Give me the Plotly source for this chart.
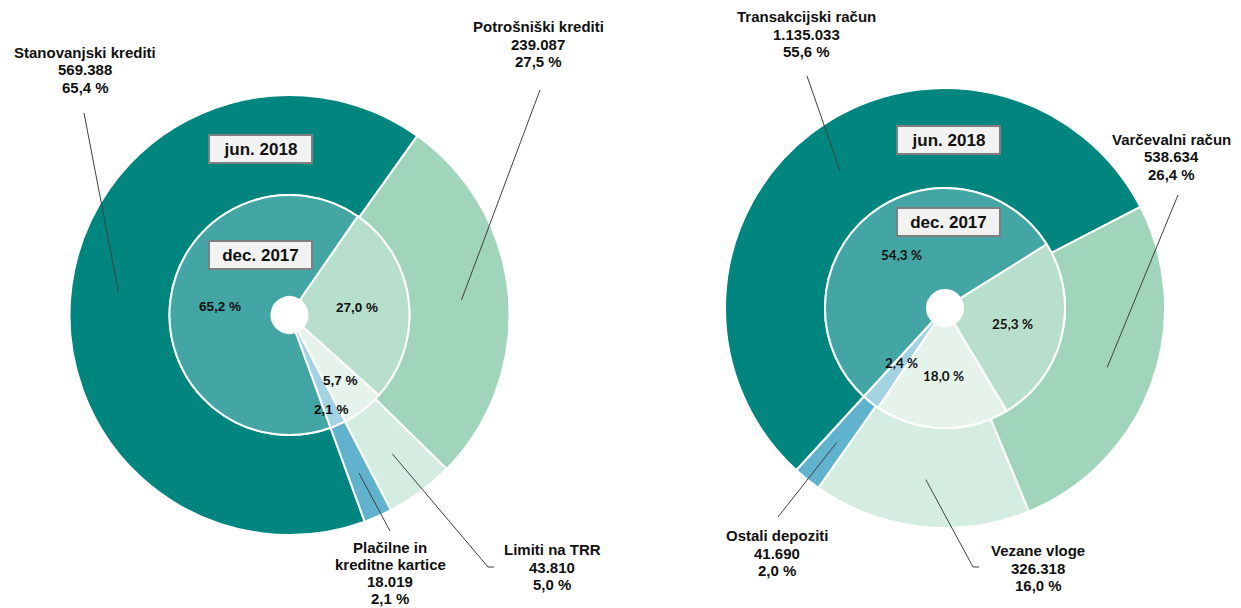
import math
import plotly.graph_objects as go

# page body has an 8px default margin -> figure fills the rest of the 1241x608 window
OFF = 8
W, H = 1241 - OFF, 608 - OFF

# ---------------- data ----------------
loan_labels = ["Stanovanjski krediti", "Potrošniški krediti", "Limiti na TRR", "Plačilne in\nkreditne kartice"]
loan_jun2018 = [569388, 239087, 43810, 18019]
loan_dec2017_pct = [65.2, 27.0, 5.7, 2.1]

dep_labels = ["Transakcijski račun", "Varčevalni račun", "Vezane vloge", "Ostali depoziti"]
dep_jun2018 = [1135033, 538634, 326318, 41690]
dep_dec2017_pct = [54.3, 25.3, 18.0, 2.4]

period_outer = "jun. 2018"
period_inner = "dec. 2017"

# ---------------- style ----------------
outer_colors = ["#00857F", "#A0D4BB", "#D5ECE0", "#60B2CD"]
inner_colors = ["#43A5A4", "#B8DFCB", "#E5F3EA", "#A3D3E3"]
FONT = "Liberation Sans"
LINE_COLOR = "#404040"
LABEL_SIZE = 15
LABEL_LINE_H = 17.3

charts = [
    dict(labels=loan_labels, outer=loan_jun2018, inner=loan_dec2017_pct,
         cx=289.5, cy=315, R=220, r_in=120, hole=18, rotation=160,
         inner_font="Liberation Sans", inner_size=13.5, inner_r=[0.58, 0.57, 0.69, 0.86],
         label_pos=[(85, 70), (538, 44), (552, 567), (390, 573)],
         line_end=[[(84, 113)], [(540, 90)], [(488, 567), (494, 567)], [(390, 531)]],
         box_x=260, box_y=[149, 255]),
    dict(labels=dep_labels, outer=dep_jun2018, inner=dep_dec2017_pct,
         cx=945, cy=308, R=220, r_in=120, hole=18, rotation=-137.5,
         inner_font="Lato", inner_size=13.5, inner_r=[0.57, 0.58, 0.57, 0.58],
         label_pos=[(806, 34), (1171, 157), (1038, 568), (777, 553)],
         line_end=[[(807, 76)], [(1178, 195)], [(973, 567), (979, 567)], [(778, 517)]],
         box_x=948, box_y=[140, 222]),
]


def fmt_int(v):
    return f"{v:,}".replace(",", ".")


def fmt_pct(p):
    return f"{p:.1f}".replace(".", ",") + " %"


def px(x):
    return (x - OFF) / W


def py(y):
    return 1 - (y - OFF) / H


def mid_angles(values, rotation):
    tot = float(sum(values))
    a = rotation
    mids = []
    for v in values:
        span = v / tot * 360.0
        mids.append(a + span / 2)
        a += span
    return mids


def polar(cx, cy, r, ang):
    t = math.radians(ang)
    return cx + r * math.sin(t), cy - r * math.cos(t)


fig = go.Figure()
annotations = []
shapes = []

for c in charts:
    cx, cy, R, r_in = c["cx"], c["cy"], c["R"], c["r_in"]
    names = [l.replace("\n", " ") for l in c["labels"]]
    # outer ring (jun. 2018)
    fig.add_trace(go.Pie(
        labels=names, values=c["outer"],
        sort=False, direction="clockwise", rotation=c["rotation"],
        hole=r_in / R, textinfo="none", hoverinfo="label+value+percent",
        marker=dict(colors=outer_colors, line=dict(color="white", width=2)),
        domain=dict(x=[px(cx - R), px(cx + R)], y=[py(cy + R), py(cy - R)]),
        showlegend=False,
    ))
    # inner ring (dec. 2017)
    fig.add_trace(go.Pie(
        labels=names, values=c["inner"],
        sort=False, direction="clockwise", rotation=c["rotation"],
        hole=c["hole"] / r_in, textinfo="none", hoverinfo="label+percent",
        marker=dict(colors=inner_colors, line=dict(color="white", width=2)),
        domain=dict(x=[px(cx - r_in), px(cx + r_in)], y=[py(cy + r_in), py(cy - r_in)]),
        showlegend=False,
    ))

    tot = float(sum(c["outer"]))
    outer_mids = mid_angles(c["outer"], c["rotation"])
    inner_mids = mid_angles(c["inner"], c["rotation"])

    # outer labels with leader lines
    for i, lab in enumerate(c["labels"]):
        pct = c["outer"][i] / tot * 100
        lines = lab.split("\n") + [fmt_int(c["outer"][i]), fmt_pct(pct)]
        lx, ly = c["label_pos"][i]
        n = len(lines)
        for k, s in enumerate(lines):
            yk = ly + (k - (n - 1) / 2) * LABEL_LINE_H
            annotations.append(dict(
                x=px(lx), y=py(yk), xref="paper", yref="paper", text=f"<b>{s}</b>",
                showarrow=False, xanchor="center", yanchor="middle", align="center",
                font=dict(family=FONT, size=LABEL_SIZE, color="#111111"),
            ))
        tx, ty = polar(cx, cy, 0.785 * R, outer_mids[i])
        path = f"M {px(tx)} {py(ty)}"
        for (ex, ey) in c["line_end"][i]:
            path += f" L {px(ex)} {py(ey)}"
        shapes.append(dict(type="path", path=path, xref="paper", yref="paper",
                           line=dict(color=LINE_COLOR, width=1)))

    # inner percentage labels
    for i, p in enumerate(c["inner"]):
        lx, ly = polar(cx, cy, c["inner_r"][i] * r_in, inner_mids[i])
        annotations.append(dict(
            x=px(lx), y=py(ly), xref="paper", yref="paper", text=f"<b>{fmt_pct(p)}</b>",
            showarrow=False, xanchor="center", yanchor="middle",
            font=dict(family=c["inner_font"], size=c["inner_size"], color="#111111"),
        ))

    # period boxes
    for txt, by in zip([period_outer, period_inner], c["box_y"]):
        annotations.append(dict(
            x=px(c["box_x"]), y=py(by), xref="paper", yref="paper", text=f"<b>{txt}</b>",
            showarrow=False, xanchor="center", yanchor="middle",
            width=99, height=24, borderpad=1,
            bgcolor="#F2F2F2", bordercolor="#7F7F7F", borderwidth=2,
            font=dict(family=FONT, size=17, color="#111111"),
        ))

fig.update_layout(
    width=W, height=H,
    margin=dict(l=0, r=0, t=0, b=0),
    paper_bgcolor="white", plot_bgcolor="white",
    annotations=annotations, shapes=shapes,
)

fig.write_html("out.html")
